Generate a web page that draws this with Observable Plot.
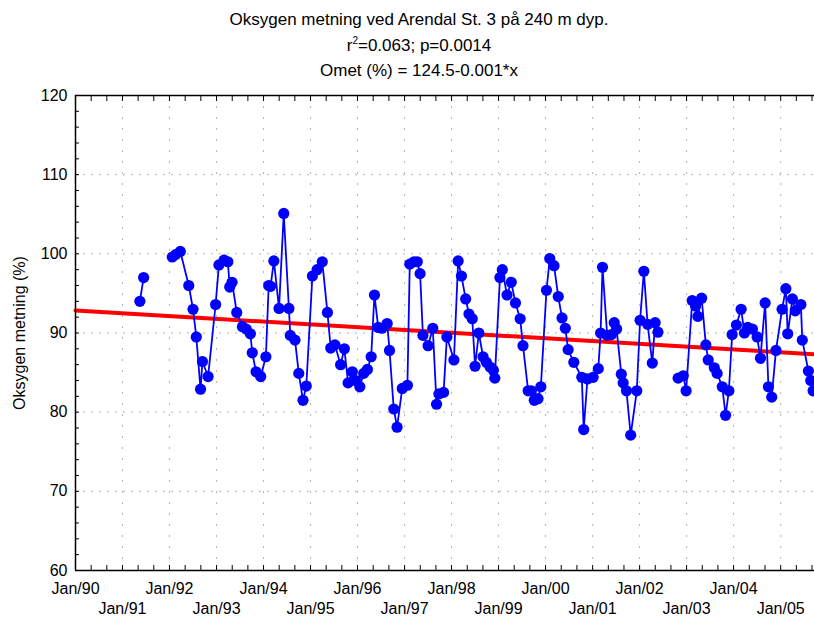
<!DOCTYPE html>
<html>
<head>
<meta charset="utf-8">
<script src="https://cdn.jsdelivr.net/npm/d3@7"></script>
<script src="https://cdn.jsdelivr.net/npm/@observablehq/plot@0.6"></script>
<style>
  html, body { margin: 0; padding: 0; background: #fff; }
  body { width: 814px; height: 617px; overflow: hidden; font-family: "Liberation Sans", Arial, sans-serif; }
  #titles { position: relative; height: 80px; width: 814px; }
  .t { position: absolute; left: 0; width: 838px; text-align: center; font-size: 17px; color: #000; white-space: nowrap; }
  .t sup { font-size: 10px; vertical-align: 7px; line-height: 0; }
</style>
</head>
<body>
<div id="titles">
  <div class="t" style="top:10px">Oksygen metning ved Arendal St. 3 på 240 m dyp.</div>
  <div class="t" style="top:36px">r<sup>2</sup>=0.063; p=0.0014</div>
  <div class="t" style="top:61px">Omet (%) = 124.5-0.001*x</div>
</div>
<div id="chart"></div>
<script>
// Sampling times (decimal years) and oxygen saturation (%); null = missing sample (gap in line)
const sampleYears = [
  1991.37, 1991.45, 1991.75,
  1992.06, 1992.13, 1992.23, 1992.41, 1992.50, 1992.57, 1992.66, 1992.70, 1992.82, 1992.98,
  1993.05, 1993.16, 1993.24, 1993.28, 1993.33, 1993.43, 1993.55, 1993.63, 1993.72, 1993.76, 1993.84, 1993.94,
  1994.05, 1994.11, 1994.15, 1994.22, 1994.33, 1994.43, 1994.54, 1994.57, 1994.67, 1994.75, 1994.84, 1994.91,
  1995.04, 1995.14, 1995.25, 1995.36, 1995.43, 1995.52, 1995.64, 1995.72, 1995.80, 1995.89, 1995.96,
  1996.05, 1996.13, 1996.21, 1996.29, 1996.36, 1996.44, 1996.52, 1996.63, 1996.68, 1996.77, 1996.84, 1996.95,
  1997.06, 1997.11, 1997.20, 1997.27, 1997.33, 1997.39, 1997.50, 1997.60, 1997.68, 1997.73, 1997.83, 1997.90,
  1998.05, 1998.14, 1998.21, 1998.30, 1998.37, 1998.44, 1998.50, 1998.58, 1998.67, 1998.74, 1998.82, 1998.89, 1998.92,
  1999.03, 1999.08, 1999.18, 1999.27, 1999.36, 1999.46, 1999.52, 1999.63, 1999.70, 1999.76, 1999.84, 1999.90,
  2000.02, 2000.09, 2000.18, 2000.27, 2000.35, 2000.42, 2000.48, 2000.60, 2000.77, 2000.81, 2000.89,
  2001.01, 2001.12, 2001.17, 2001.21, 2001.31, 2001.40, 2001.46, 2001.51, 2001.61, 2001.65, 2001.72, 2001.81, 2001.94,
  2002.01, 2002.09, 2002.17, 2002.27, 2002.33, 2002.39, 2002.60,
  2002.82, 2002.93, 2002.99,
  2003.12, 2003.19, 2003.24, 2003.32, 2003.41, 2003.46, 2003.59, 2003.65, 2003.76, 2003.83, 2003.90, 2003.97,
  2004.06, 2004.16, 2004.23, 2004.30, 2004.40, 2004.50, 2004.57, 2004.67, 2004.74, 2004.81, 2004.90,
  2005.03, 2005.11, 2005.15, 2005.25, 2005.31, 2005.43, 2005.46, 2005.59, 2005.64, 2005.69
];
const saturation = [
  94.0, 97.0, null,
  99.6, 99.9, 100.3, 96.0, 93.0, 89.5, 82.9, 86.4, 84.5, 93.6,
  98.6, 99.2, 99.0, 95.8, 96.4, 92.6, 90.8, 90.5, 89.9, 87.5, 85.1, 84.5,
  87.0, 96.0, 95.9, 99.1, 93.1, 105.1, 93.1, 89.7, 89.1, 84.9, 81.5, 83.3,
  97.2, 98.0, 99.0, 92.6, 88.1, 88.5, 86.0, 88.0, 83.7, 85.1, 84.0,
  83.2, 84.9, 85.4, 87.0, 94.8, 90.7, 90.6, 91.2, 87.8, 80.4, 78.1, 83.0,
  83.4, 98.7, 99.0, 99.0, 97.5, 89.7, 88.4, 90.6, 81.0, 82.3, 82.5, 89.5,
  86.6, 99.1, 97.2, 94.3, 92.4, 91.8, 85.8, 90.0, 87.0, 86.3, 85.7, 85.3, 84.3,
  97.0, 98.0, 94.8, 96.4, 93.8, 91.8, 88.4, 82.7, 82.7, 81.5, 81.7, 83.2,
  95.4, 99.4, 98.5, 94.6, 91.9, 90.6, 87.9, 86.3, 84.4, 77.8, 84.2,
  84.4, 85.5, 90.0, 98.3, 89.7, 89.8, 91.3, 90.5, 84.8, 83.7, 82.7, 77.1, 82.7,
  91.6, 97.8, 91.1, 86.2, 91.3, 90.1, null,
  84.3, 84.6, 82.7,
  94.1, 93.4, 92.1, 94.4, 88.5, 86.6, 85.6, 84.9, 83.2, 79.6, 82.7, 89.8,
  91.0, 93.0, 90.0, 90.7, 90.5, 89.5, 86.8, 93.8, 83.2, 81.9, 87.8,
  93.0, 95.6, 89.9, 94.3, 92.8, 93.6, 89.1, 85.2, 84.0, 82.7
];
// Axis settings
const xStartYear = 1990;
const xEndYear = 2005.72;
const yTicks = [60, 70, 80, 90, 100, 110, 120];
const labelYearsRow1 = [1990, 1992, 1994, 1996, 1998, 2000, 2002, 2004];
const labelYearsRow2 = [1991, 1993, 1995, 1997, 1999, 2001, 2003, 2005];
// Regression from chart: Omet (%) = 124.5 - 0.001*x, x = date serial (days)
const regIntercept = 124.5;
const regSlope = -0.000963;

function decToDate(y) {
  const yr = Math.floor(y);
  const s = Date.UTC(yr, 0, 1), e = Date.UTC(yr + 1, 0, 1);
  return new Date(s + (y - yr) * (e - s));
}
const serialEpoch = Date.UTC(1899, 11, 30);
const serial = d => (d - serialEpoch) / 86400000;

const data = sampleYears.map((y, i) => ({date: decToDate(y), value: saturation[i]}));
const x0 = decToDate(xStartYear), x1 = decToDate(xEndYear);
const trend = [x0, x1].map(d => ({date: d, value: regIntercept + regSlope * serial(d)}));

const yearDates = d3.range(1991, 2006).map(y => decToDate(y));
const minorDates = d3.range(0, 48).map(i => decToDate(1990 + i / 3)).filter(d => d <= x1);
const fmt = d => "Jan/" + String(d.getUTCFullYear()).slice(2);
const grid = {stroke: "#b4b4b4", strokeWidth: 1};

const chart = Plot.plot({
  width: 814,
  height: 537,
  marginTop: 15,
  marginBottom: 47,
  marginLeft: 75,
  marginRight: 0,
  style: {fontFamily: "'Liberation Sans', Arial, sans-serif", fontSize: "16px", color: "#000", background: "#fff"},
  x: {type: "utc", domain: [x0, x1], label: null},
  y: {domain: [60, 120], label: null},
  marks: [
    Plot.ruleX(yearDates, {...grid, strokeDasharray: "2,9"}),
    Plot.ruleY(yTicks.filter(v => v > 60 && v < 120), {...grid, strokeDasharray: "2,6"}),
    Plot.line(trend, {x: "date", y: "value", stroke: "#ff0000", strokeWidth: 4}),
    Plot.line(data, {x: "date", y: "value", stroke: "#0000ff", strokeWidth: 1.8}),
    Plot.dot(data, {x: "date", y: "value", r: 5.6, fill: "#0000ff", stroke: "none"}),
    Plot.ruleY([60, 120], {stroke: "#000", strokeWidth: 1.5}),
    Plot.ruleX([x0], {stroke: "#000", strokeWidth: 1.5}),
    Plot.axisX({anchor: "bottom", ticks: minorDates, tickSize: 5, text: null, label: null, dy: -5}),
    Plot.axisX({anchor: "top", ticks: minorDates, tickSize: 5, text: null, label: null, dy: 5}),
    Plot.axisY({ticks: d3.range(60, 121, 2), tickSize: 4, text: null, label: null, dx: 4}),
    Plot.axisY({ticks: yTicks, tickSize: 0, tickPadding: 8, tickFormat: d => d,
      label: "Oksygen metning (%)", labelAnchor: "center", labelArrow: "none", labelOffset: 62}),
    Plot.axisX({anchor: "bottom", ticks: labelYearsRow1.map(decToDate), tickSize: 0, tickPadding: 12, tickFormat: fmt, label: null}),
    Plot.axisX({anchor: "bottom", ticks: labelYearsRow2.map(decToDate), tickSize: 0, tickPadding: 32, tickFormat: fmt, label: null})
  ]
});
document.getElementById("chart").appendChild(chart);
</script>
</body>
</html>
